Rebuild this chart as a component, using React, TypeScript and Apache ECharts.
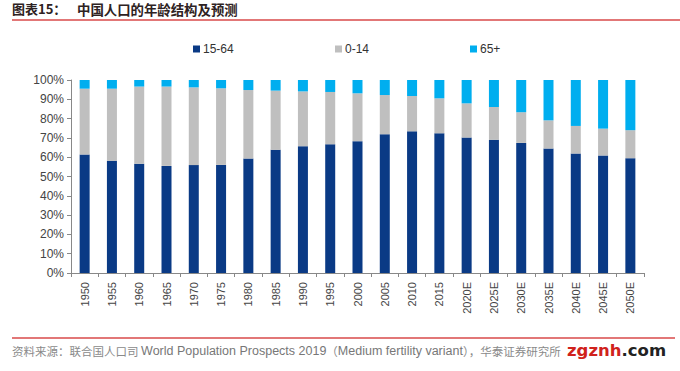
import React, { useEffect, useRef } from "react";
import * as echarts from "echarts";

const categories = ["1950","1955","1960","1965","1970","1975","1980","1985","1990","1995","2000","2005","2010","2015","2020E","2025E","2030E","2035E","2040E","2045E","2050E"];
const age15to64 = [61.4,58.1,56.6,55.5,55.9,56.0,59.3,63.8,65.7,66.7,68.3,71.9,73.4,72.4,70.2,69.0,67.4,64.5,61.9,60.9,59.5];
const age0to14 = [34.1,37.4,40.0,41.1,40.3,39.7,35.5,30.7,28.4,27.1,24.8,20.3,18.3,18.1,17.7,17.0,15.9,14.6,14.3,13.9,14.5];
const age65plus = [4.5,4.5,3.4,3.4,3.8,4.3,5.2,5.5,5.9,6.2,6.9,7.8,8.3,9.5,12.1,14.0,16.7,20.9,23.8,25.2,26.0];
const seriesNames = ["15-64", "0-14", "65+"];
const yTicks = [0, 10, 20, 30, 40, 50, 60, 70, 80, 90, 100];

const colors = ["#0a3a85", "#bfbfbf", "#00aeef"];
const font = "'Liberation Sans', Arial, sans-serif";
const cjk = "'Noto Sans CJK SC', sans-serif";

export default function App() {
  const ref = useRef<HTMLDivElement>(null);
  useEffect(() => {
    if (!ref.current) return;
    const chart = echarts.init(ref.current, null, { renderer: "svg" });
    const data = [age15to64, age0to14, age65plus];
    const legendLefts = [188, 330, 465];
    chart.setOption({
      animation: false,
      textStyle: { fontFamily: font },
      grid: { left: 71, right: 36, top: 80, bottom: 98 },
      legend: seriesNames.map((n, i) => ({
        data: [n],
        left: legendLefts[i],
        top: 38,
        icon: "rect",
        itemWidth: 7,
        itemHeight: 7,
        itemGap: 3,
        textStyle: { fontSize: 12, color: "#333", fontFamily: font, padding: [0, 0, 0, -2] },
      })),
      xAxis: {
        type: "category",
        data: categories,
        axisLine: { lineStyle: { color: "#888", width: 1 } },
        axisTick: { show: true, alignWithLabel: false, length: 4, lineStyle: { color: "#888" } },
        axisLabel: { rotate: 90, fontSize: 11, color: "#444", margin: 9, fontFamily: font },
      },
      yAxis: {
        type: "value",
        min: 0,
        max: 100,
        interval: 10,
        axisLine: { show: true, lineStyle: { color: "#888", width: 1 } },
        axisTick: { show: true, length: 4, lineStyle: { color: "#888" } },
        splitLine: { show: false },
        axisLabel: {
          fontSize: 12,
          color: "#444",
          margin: 7,
          fontFamily: font,
          formatter: (v: number) => (yTicks.includes(v) ? v + "%" : ""),
        },
      },
      series: seriesNames.map((n, i) => ({
        name: n,
        type: "bar",
        stack: "total",
        barWidth: 10,
        itemStyle: { color: colors[i] },
        data: data[i],
      })),
      graphic: [
        {
          type: "text",
          left: 12,
          top: 2,
          style: { text: "图表15：", fontSize: 13, fontWeight: "bold", fill: "#2e2222", fontFamily: cjk },
        },
        {
          type: "text",
          left: 77,
          top: 2,
          style: { text: "中国人口的年龄结构及预测", fontSize: 13.4, fontWeight: "bold", fill: "#2e2222", fontFamily: cjk },
        },
        { type: "line", shape: { x1: 12, y1: 20, x2: 680, y2: 20 }, style: { stroke: "#d94a4a", lineWidth: 1.5 } },
        { type: "line", shape: { x1: 12, y1: 338, x2: 675, y2: 338 }, style: { stroke: "#d94a4a", lineWidth: 1.5 } },
        {
          type: "text",
          left: 12,
          top: 344,
          style: {
            text: "{c|资料来源：联合国人口司 }{l|World Population Prospects 2019}{c|（}{l|Medium fertility variant}{c|），华泰证券研究所}",
            rich: {
              c: { fontSize: 11.5, fill: "#8a8a8a", fontFamily: cjk },
              l: { fontSize: 12.5, fill: "#777", fontFamily: font },
            },
          },
        },
        {
          type: "text",
          left: 567,
          top: 342,
          style: {
            text: "{a|zgznh}{b|.com}",
            rich: {
              a: { fontSize: 16.5, fontWeight: "bold", fill: "#d0221c", fontFamily: "'DejaVu Sans', sans-serif" },
              b: { fontSize: 16.5, fontWeight: "bold", fill: "#222", fontFamily: "'DejaVu Sans', sans-serif" },
            },
          },
        },
      ],
    });
    return () => chart.dispose();
  }, []);
  return <div ref={ref} style={{ width: 680, height: 371, position: "absolute", left: 0, top: 0 }} />;
}
